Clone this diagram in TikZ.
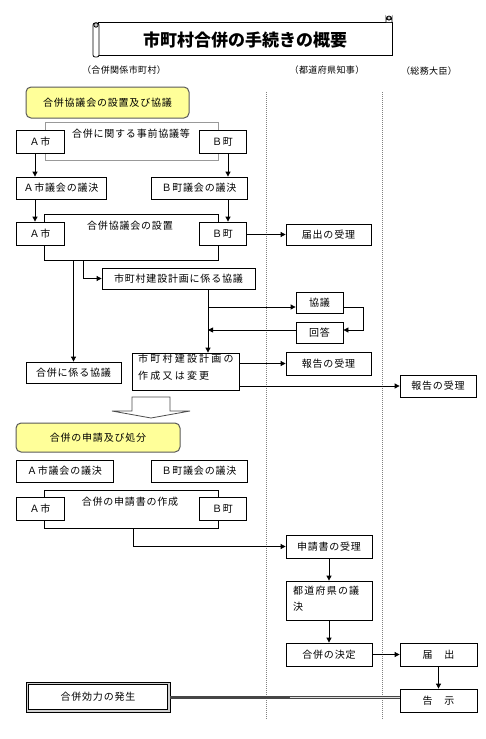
\documentclass[tikz,border=0pt]{standalone}
\usepackage{fontspec}
\newfontfamily\jp{Noto Sans CJK JP}
\usetikzlibrary{arrows.meta,calc}
\newcommand\jpf{\jp\fontsize{10}{12}\selectfont\addfontfeatures{LetterSpace=8}}
\newcommand\jpw{\jp\fontsize{10}{17}\selectfont\addfontfeatures{LetterSpace=22}}
\definecolor{hdryellow}{HTML}{FFFF99}
\tikzset{
  bx/.style={draw, line width=0.8pt, fill=white, inner sep=0pt, font=\jpf},
  hdr/.style={draw=gray!70!black, line width=1pt, fill=hdryellow, rounded corners=5pt, inner sep=0pt, font=\jpf},
  lbl/.style={inner sep=0pt, font=\jpf},
  col/.style={inner sep=0pt, font=\jp\fontsize{9}{11}\selectfont\addfontfeatures{LetterSpace=4}},
  arr/.style={-{Triangle[length=5pt,width=5pt]}, line width=0.8pt},
  ln/.style={line width=0.8pt},
  lane/.style={gray, line width=0.6pt, dash pattern=on 1pt off 1pt},
}
\begin{document}
\begin{tikzpicture}[x=1pt,y=-1pt]
\useasboundingbox (0,0) rectangle (485,739);

% title scroll
\draw[line width=1pt, fill=white] (98,22) rectangle (392,55);
\draw[line width=0.8pt, fill=white, rounded corners=2pt] (93,23) rectangle (99,57);
\draw[line width=0.8pt, fill=gray!40] (96,25) circle (2.2);
\draw[line width=0.8pt, fill=white] (386,22) -- (386,17) arc (180:0:3) -- (392,22);
\draw[line width=0.8pt, fill=gray!40] (389,18) circle (2);
\node[inner sep=0pt, font=\jp\bfseries\fontsize{17}{20}\selectfont] (title) at (245,40) {市町村合併の手続きの概要};

% column labels
\node[col] (lab1) at (124,70) {（合併関係市町村）};
\node[col] (lab2) at (327,70) {（都道府県知事）};
\node[col] (lab3) at (429,71) {（総務大臣）};

% lanes
\draw[lane] (266,92) -- (266,720);
\draw[lane] (382,92) -- (382,720);

% column coordinates
\coordinate (colA) at (35,0);
\coordinate (colB) at (228,0);
\coordinate (colC) at (83,0);
\coordinate (colD) at (208,0);
\coordinate (colE) at (133,0);

% section 1
\node[hdr, minimum width=163, minimum height=31] (hdr1) at (107.5,102.5) {合併協議会の設置及び協議};

\draw[gray!80, line width=1pt, fill=white] (45,122) rectangle (218,160);
\node[lbl] (pretext) at (131,134) {合併に関する事前協議等};
\node[bx, minimum width=48, minimum height=23] (A1) at (40,141.5) {Ａ市};
\node[bx, minimum width=47, minimum height=23] (B1) at (222.5,141.5) {Ｂ町};

\node[bx, minimum width=90, minimum height=22] (Ag1) at (61,188) {Ａ市議会の議決};
\node[bx, minimum width=96, minimum height=22] (Bg1) at (199,188) {Ｂ町議会の議決};
\draw[arr] (A1.south -| colA) -- (Ag1.north -| colA);
\draw[arr] (B1.south -| colB) -- (Bg1.north -| colB);

\node[bx, minimum width=174, minimum height=46] (kyo) at (131,237) {};
\node[lbl] (kyotext) at (130,226) {合併協議会の設置};
\node[bx, minimum width=48, minimum height=23] (A2) at (40,233.5) {Ａ市};
\node[bx, minimum width=47, minimum height=23] (B2) at (222.5,233.5) {Ｂ町};
\draw[arr] (Ag1.south -| colA) -- (A2.north -| colA);
\draw[arr] (Bg1.south -| colB) -- (B2.north -| colB);

\node[bx, minimum width=85, minimum height=21] (todoke) at (328.5,234.5) {届出の受理};
\draw[arr] (todoke.west -| B2.east) -- (todoke.west);

\node[bx, minimum width=153, minimum height=21] (pk) at (178.5,278.5) {市町村建設計画に係る協議};
\draw[arr] (kyo.south -| colC) |- (pk.west);

\node[bx, minimum width=95, minimum height=21] (gk) at (73.5,372.5) {合併に係る協議};
\draw[arr] (kyo.south -| gk.north) -- (gk.north);

\node[bx, minimum width=47, minimum height=21] (kyogi) at (319.5,302.5) {協議};
\node[bx, minimum width=47, minimum height=21] (kaito) at (319.5,332.5) {回答};
\coordinate (kb) at ([yshift=-4.5pt]kyogi.west);
\coordinate (ka) at ([yshift=2.5pt]kaito.west);

\node[bx, minimum width=107, minimum height=37] (plan) at (185.5,371.5) {};
\node[lbl, font=\jpw, align=left, anchor=north west] (plantext) at (138,354) {市町村建設計画の\\作成又は変更};

\draw[arr] (pk.south -| colD) -- (plan.north -| colD);
\draw[arr] (kb -| colD) -- (kb);
\draw[arr] (ka) -- (ka -| colD);
\draw[arr] (kb -| kyogi.east) -- ++(20,0) |- (ka -| kaito.east);

\node[bx, minimum width=85, minimum height=23] (hok1) at (328.5,363.5) {報告の受理};
\node[bx, minimum width=76, minimum height=22] (hok2) at (438,386) {報告の受理};
\draw[arr] (hok1.west -| plan.east) -- (hok1.west);
\draw[arr] (hok2.west -| plan.east) -- (hok2.west);

% big hollow arrow
\draw[gray!60!black, line width=0.8pt, fill=white] (132,397) -- (170,397) -- (170,411) -- (190,411) -- (151,418) -- (112,411) -- (132,411) -- cycle;

% section 2
\node[hdr, minimum width=164, minimum height=29] (hdr2) at (98,437.5) {合併の申請及び処分};
\node[bx, minimum width=97, minimum height=22] (Ag2) at (64.5,471) {Ａ市議会の議決};
\node[bx, minimum width=96, minimum height=22] (Bg2) at (199,471) {Ｂ町議会の議決};

\node[bx, minimum width=174, minimum height=38] (sin) at (131,509) {};
\node[lbl] (sintext) at (130,502) {合併の申請書の作成};
\node[bx, minimum width=48, minimum height=23] (A3) at (40,508.5) {Ａ市};
\node[bx, minimum width=47, minimum height=23] (B3) at (222.5,508.5) {Ｂ町};

\node[bx, minimum width=86, minimum height=23] (juri) at (329,546.5) {申請書の受理};
\draw[arr] (sin.south -| colE) |- (juri.west);

\node[bx, minimum width=86, minimum height=39] (giketsu) at (329,600.5) {};
\node[lbl, font=\jp\fontsize{10}{16}\selectfont\addfontfeatures{LetterSpace=12}, align=left, anchor=north west] (gktext) at (293,586) {都道府県の議\\決};
\draw[arr] (juri.south) -- (giketsu.north);

\node[bx, minimum width=86, minimum height=23] (kettei) at (329,654.5) {合併の決定};
\draw[arr] (giketsu.south) -- (kettei.north);

\node[bx, minimum width=77, minimum height=23] (todo2) at (438.5,654.5) {届　出};
\draw[arr] (kettei.east) -- (todo2.west);
\node[bx, minimum width=77, minimum height=23] (kokuji) at (438.5,700.5) {告　示};
\draw[arr] (todo2.south) -- (kokuji.north);

% effect box
\node[draw, line width=0.8pt, fill=gray!35, minimum width=144, minimum height=30, inner sep=0pt] (kour) at (98,697) {};
\draw[line width=0.8pt, fill=white] ([xshift=3pt,yshift=-3pt]kour.north west) rectangle ([xshift=-3pt,yshift=3pt]kour.south east);
\node[lbl] (kourtext) at (98,697) {合併効力の発生};
\draw[gray!55!black, line width=3pt] (kour.east) -- (kour.east -| kokuji.west);
\draw[gray!25, line width=0.8pt] (kour.east -| lab2.west) -- (kour.east -| kokuji.west);
\end{tikzpicture}
\end{document}
